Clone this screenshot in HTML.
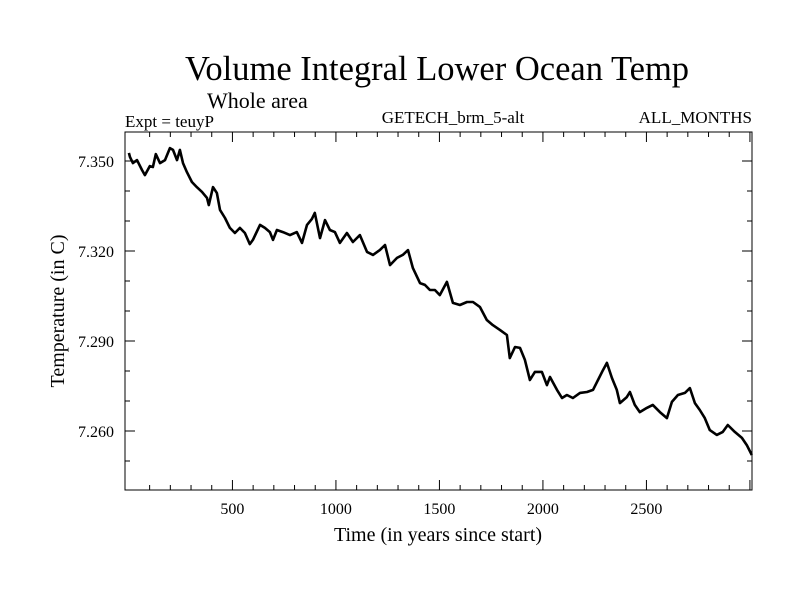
<!DOCTYPE html>
<html><head><meta charset="utf-8"><style>
body{margin:0;background:#fff}
svg{display:block;font-family:"Liberation Serif",serif}
</style></head><body>
<svg id="c" width="800" height="600">
<text x="437" y="80" font-size="34.5" text-anchor="middle">Volume Integral Lower Ocean Temp</text>
<text x="207" y="108" font-size="22">Whole area</text>
<text x="125" y="127" font-size="17">Expt = teuyP</text>
<text x="453" y="123" font-size="17" text-anchor="middle">GETECH_brm_5-alt</text>
<text x="752" y="123" font-size="17" text-anchor="end">ALL_MONTHS</text>
<text x="438" y="541" font-size="20" text-anchor="middle">Time (in years since start)</text>
<text transform="translate(64,311) rotate(-90)" font-size="20" text-anchor="middle">Temperature (in C)</text>
<g id="ticks"></g>
<polyline id="line" fill="none" stroke="#000" stroke-width="2.6" stroke-linejoin="round"/>
<rect x="125" y="132" width="627" height="358" fill="none" stroke="#000" stroke-width="1"/>
</svg>
<script>
const years=[0,5,19,39,63,77,101,116,130,150,174,198,213,232,246,261,280,304,328,353,377,386,406,425,440,464,488,512,536,560,584,599,633,657,681,696,715,744,778,811,836,860,884,898,923,947,971,995,1019,1053,1082,1116,1150,1179,1212,1237,1261,1295,1323,1348,1372,1406,1430,1454,1478,1502,1536,1565,1599,1633,1662,1696,1729,1758,1792,1826,1840,1865,1889,1913,1937,1961,1995,2019,2034,2068,2092,2116,2145,2179,2213,2242,2266,2290,2309,2333,2357,2372,2405,2420,2444,2468,2502,2531,2565,2599,2623,2652,2686,2710,2734,2758,2782,2806,2840,2869,2893,2927,2961,2985,3009];
const temps=[7.3527,7.3513,7.3493,7.3503,7.3470,7.3453,7.3483,7.3480,7.3523,7.3493,7.3503,7.3543,7.3537,7.3503,7.3537,7.3493,7.3463,7.3430,7.3413,7.3397,7.3377,7.3353,7.3413,7.3393,7.3337,7.3310,7.3277,7.3260,7.3277,7.3260,7.3223,7.3237,7.3287,7.3277,7.3263,7.3237,7.3270,7.3263,7.3253,7.3263,7.3227,7.3287,7.3307,7.3327,7.3243,7.3303,7.3270,7.3263,7.3227,7.3260,7.3230,7.3253,7.3197,7.3187,7.3203,7.3220,7.3153,7.3177,7.3187,7.3203,7.3143,7.3093,7.3087,7.3070,7.3070,7.3053,7.3097,7.3027,7.3020,7.3030,7.3030,7.3013,7.2970,7.2953,7.2937,7.2920,7.2843,7.2880,7.2877,7.2837,7.2770,7.2797,7.2797,7.2753,7.2780,7.2737,7.2710,7.2720,7.2710,7.2727,7.2730,7.2737,7.2770,7.2803,7.2827,7.2777,7.2737,7.2693,7.2713,7.2730,7.2687,7.2663,7.2677,7.2687,7.2663,7.2643,7.2697,7.2720,7.2727,7.2743,7.2693,7.2670,7.2643,7.2603,7.2587,7.2597,7.2620,7.2597,7.2577,7.2553,7.2520];
const xTickLabels=[500,1000,1500,2000,2500];
const yTickLabels=["7.260","7.290","7.320","7.350"];
const X0=125,X1=752,Y0=490,Y1=132;
const xMin=-19,xMax=3010,yMin=7.24033,yMax=7.35967;
function sx(t){return X0+(t-xMin)/(xMax-xMin)*(X1-X0);}
function sy(v){return Y0-(v-yMin)/(yMax-yMin)*(Y0-Y1);}
const NS="http://www.w3.org/2000/svg";
const g=document.getElementById('ticks');
function ln(x1,y1,x2,y2,name){const l=document.createElementNS(NS,'line');l.setAttribute('x1',x1);l.setAttribute('y1',y1);l.setAttribute('x2',x2);l.setAttribute('y2',y2);l.setAttribute('stroke','#000');l.setAttribute('stroke-width','1');


g.appendChild(l);}
function tx(x,y,s,anchor,name){const t=document.createElementNS(NS,'text');t.setAttribute('x',x);t.setAttribute('y',y);t.setAttribute('font-size','16');t.setAttribute('text-anchor',anchor);t.textContent=s;


g.appendChild(t);}
for(let t=100;t<3010;t+=100){const x=sx(t);const L=(t%500===0)?10:5;ln(x,Y0,x,Y0-L,'x-tick');ln(x,Y1,x,Y1+L,'x-tick-top');}
xTickLabels.forEach(v=>tx(sx(v),514,String(v),'middle','x-tick-label'));
for(let k=725;k<=735;k++){const v=k/100;const y=sy(v);const L=(k%3===0)?10:5;ln(X0,y,X0+L,y,'y-tick');ln(X1,y,X1-L,y,'y-tick-right');}
yTickLabels.forEach(s=>tx(114,sy(parseFloat(s))+6,s,'end','y-tick-label'));
document.getElementById('line').setAttribute('points',years.map((t,i)=>sx(t).toFixed(1)+','+sy(temps[i]).toFixed(1)).join(' '));
</script>
</body></html>
